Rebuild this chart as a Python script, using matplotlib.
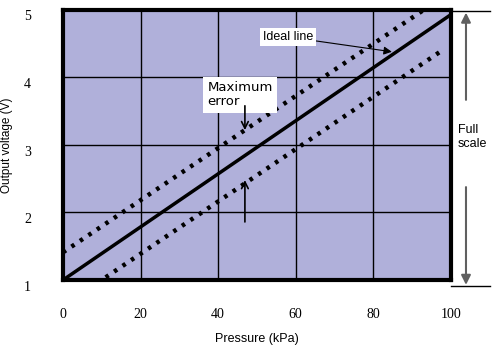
import numpy as np
import matplotlib
matplotlib.use('Agg')
import matplotlib.pyplot as plt
from matplotlib.transforms import ScaledTranslation

# pressure (kPa) / output voltage (V), end points
ideal_p = [0, 100]
ideal_v = [1.0, 4.93]
upper_p = [0, 93]
upper_v = [1.41, 5.0]
lower_p = [11, 98]
lower_v = [1.04, 4.41]

xticks = [0, 20, 40, 60, 80, 100]
yticks = [1, 2, 3, 4, 5]

fig = plt.figure(figsize=(4.96, 3.54), dpi=100)
ax = fig.add_axes([0.127, 0.209, 0.782, 0.763])
ax.set_facecolor('#b0b0da')

ax.plot(ideal_p, ideal_v, color='black', lw=2.5, solid_capstyle='butt', zorder=3)
ax.plot(upper_p, upper_v, color='black', lw=3.2, ls=(0, (0.8, 1.5)), zorder=3)
ax.plot(lower_p, lower_v, color='black', lw=3.2, ls=(0, (0.8, 1.5)), zorder=3)

ax.set_xlim(0, 100)
ax.set_ylim(1, 5)
ax.set_xticks(xticks)
ax.set_yticks(yticks)
ax.grid(True, color='black', lw=1.0)
ax.tick_params(length=0, labelsize=10)
ax.tick_params(axis='x', pad=20)
ax.tick_params(axis='y', pad=23)
shift = ScaledTranslation(0, -4 / 72, fig.dpi_scale_trans)
for lbl in ax.get_yticklabels():
    lbl.set_transform(lbl.get_transform() + shift)
for lbl in ax.get_xticklabels() + ax.get_yticklabels():
    lbl.set_family('Liberation Serif')
for s in ax.spines.values():
    s.set_linewidth(3)

ax.set_xlabel('Pressure (kPa)', family='Liberation Sans', fontsize=9, labelpad=9)
ax.set_ylabel('Output voltage (V)', family='Liberation Sans', fontsize=8.5, labelpad=8)

box = dict(facecolor='white', edgecolor='none', pad=2)
ax.annotate('Ideal line', xy=(84.8, 4.38), xytext=(51.5, 4.6),
            family='Liberation Sans', fontsize=9, va='center', bbox=box,
            arrowprops=dict(arrowstyle='-|>', color='black', lw=0.8,
                            shrinkA=0, shrinkB=0, mutation_scale=12))
ax.text(37.3, 3.94, 'Maximum\nerror', family='DejaVu Sans', fontsize=9.5,
        va='top', ha='left', linespacing=1.1,
        bbox=dict(facecolor='white', edgecolor='none', pad=3))
ax.annotate('', xy=(46.9, 3.22), xytext=(46.9, 3.58),
            arrowprops=dict(arrowstyle='->', color='black', lw=1.2,
                            shrinkA=0, shrinkB=0, mutation_scale=12))
ax.annotate('', xy=(46.9, 2.48), xytext=(46.9, 1.86),
            arrowprops=dict(arrowstyle='->', color='black', lw=1.2,
                            shrinkA=0, shrinkB=0, mutation_scale=12))

# full scale marker outside the plot
tr = ax.transAxes
ax.plot([1.0, 1.10], [0.996, 0.996], color='black', lw=1, transform=tr, clip_on=False)
ax.plot([1.0, 1.10], [-0.022, -0.022], color='black', lw=1, transform=tr, clip_on=False)
ax.annotate('', xy=(1.039, 0.99), xytext=(1.039, 0.667), xycoords=tr, textcoords=tr,
            arrowprops=dict(arrowstyle='-|>', color='#606060', lw=1.5,
                            shrinkA=0, shrinkB=0, mutation_scale=14))
ax.annotate('', xy=(1.039, -0.018), xytext=(1.039, 0.344), xycoords=tr, textcoords=tr,
            arrowprops=dict(arrowstyle='-|>', color='#606060', lw=1.5,
                            shrinkA=0, shrinkB=0, mutation_scale=14))
ax.text(1.018, 0.53, 'Full\nscale', transform=tr, family='Liberation Sans',
        fontsize=9, va='center', ha='left', linespacing=1.2)

fig.savefig('out.png', dpi=100)
